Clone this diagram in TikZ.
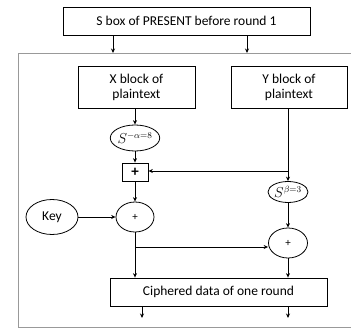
\documentclass[tikz,border=0pt]{standalone}
\usepackage{fontspec}
\setmainfont{Carlito}
\usetikzlibrary{arrows.meta,shapes.geometric}

\tikzset{
	blk/.style={rectangle, draw, line width=0.8pt, align=center, inner sep=0pt, font=\fontsize{13.5}{15}\selectfont},
	op/.style={ellipse, draw, line width=0.8pt, inner sep=0pt, font=\fontsize{13.5}{15}\selectfont},
	arr/.style={-{Stealth[length=4.5pt,width=4pt]}, line width=0.8pt}
}

\begin{document}
\begin{tikzpicture}[x=1pt,y=-1pt]
		\useasboundingbox (0,0) rectangle (351,329);

		% outer frame of one round
		\draw[gray!80, line width=0.9pt] (352,53) -- (18,53) -- (18,327) -- (352,327);

		\node[blk, minimum width=247pt, minimum height=28pt] (sbox) at (186.5,21) {S box of PRESENT before round 1};
		\node[blk, minimum width=117pt, minimum height=42pt] (xblk) at (136.5,87) {X block of\\plaintext};
		\node[blk, minimum width=116pt, minimum height=42pt] (yblk) at (289,87) {Y block of\\plaintext};

		\node[op, minimum width=45pt, minimum height=26pt] (salpha) at (135,138) {$S^{-\alpha=8}$};
		\node[blk, minimum width=26pt, minimum height=18pt, font=\fontsize{15}{15}\bfseries] (xorbox) at (135,172) {+};
		\node[op, minimum width=40pt, minimum height=21pt] (sbeta) at (288,192) {$S^{\beta=3}$};

		\node[op, minimum width=52pt, minimum height=35pt] (key) at (52,217) {Key};
		\node[op, minimum width=38pt, minimum height=30pt, font=\fontsize{11}{12}\selectfont] (add1) at (135,217) {+};
		\node[op, minimum width=39pt, minimum height=30pt, font=\fontsize{11}{12}\selectfont] (add2) at (288,243) {+};

		\node[blk, minimum width=217pt, minimum height=28pt] (cipher) at (218.5,292) {Ciphered data of one round};

		\coordinate (f1) at (113,53);
		\coordinate (f2) at (247,53);
		\coordinate (yb) at (288,171);
		\coordinate (xb) at (135,247);
		\coordinate (o1) at (142,318);
		\coordinate (o2) at (288,318);

		\draw[arr] (f1 |- sbox.south) -- (f1);
		\draw[arr] (f2 |- sbox.south) -- (f2);

		\draw[arr] (xblk.south -| salpha.north) -- (salpha.north);
		\draw[arr] (salpha) -- (xorbox);
		\draw[arr] (xorbox) -- (add1);
		\draw[arr] (yblk.south -| sbeta.north) -- (sbeta.north);
		\draw[arr] (yb) -- (yb -| xorbox.east);
		\draw[arr] (key) -- (add1);
		\draw[arr] (sbeta) -- (add2);

		\draw[arr] (add1.south) -- (add1.south |- cipher.north);
		\draw[arr] (xb) -- (xb -| add2.west);
		\draw[arr] (add2) -- (add2 |- cipher.north);

		\draw[arr] (o1 |- cipher.south) -- (o1);
		\draw[arr] (o2 |- cipher.south) -- (o2);
	\end{tikzpicture}
\end{document}
